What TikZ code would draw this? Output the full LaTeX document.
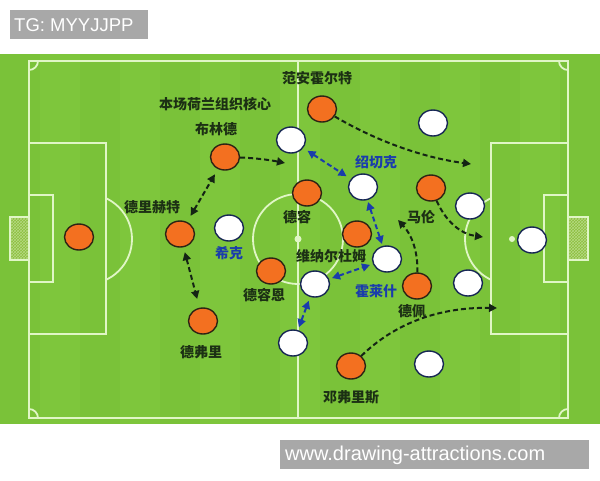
\documentclass[tikz,border=0pt]{standalone}
\usepackage{fontspec}
\setmainfont{Liberation Sans}
\newfontfamily\cjk{Noto Sans CJK SC}
\usetikzlibrary{shapes.geometric,arrows.meta,patterns}

\definecolor{grass}{RGB}{126,198,60}
\definecolor{grassdark}{RGB}{122,194,57}
\definecolor{netgreen}{RGB}{140,190,62}
\definecolor{chalk}{RGB}{224,246,198}
\definecolor{shirt}{RGB}{243,112,32}
\definecolor{rim}{RGB}{45,35,20}
\definecolor{navy}{RGB}{22,38,84}
\definecolor{runblue}{RGB}{26,60,172}
\definecolor{runblack}{RGB}{20,36,20}
\definecolor{labeltext}{RGB}{28,48,20}
\definecolor{stamp}{RGB}{168,168,168}

\begin{document}
\begin{tikzpicture}[x=1pt, y=-1pt,
    orange node/.style={ellipse,draw=rim,line width=1.4pt,fill=shirt,minimum width=29pt,minimum height=26pt,inner sep=0pt},
    white node/.style={ellipse,draw=navy,line width=1.4pt,fill=white,minimum width=29pt,minimum height=26pt,inner sep=0pt},
    name label/.style={font=\cjk\bfseries\fontsize{14}{14}\selectfont,text=labeltext,inner sep=0pt},
    blue label/.style={name label,text=runblue},
    run/.style={runblack,line width=2pt,dash pattern=on 5pt off 3pt,-{Triangle[length=8pt,width=8pt]}},
    swap run/.style={run,{Triangle[length=8pt,width=8pt]}-{Triangle[length=8pt,width=8pt]}},
    pass/.style={swap run,runblue},
    pitch/.style={chalk,line width=1.8pt},
    stamp text/.style={text=white,inner sep=0pt,anchor=west}]

  \useasboundingbox (0,0) rectangle (600,480);

  % grass and markings
  \fill[grass] (0,54) rectangle (600,424);
  \foreach \x in {0,80,...,560}
    \fill[grassdark] (\x,54) rectangle ++(40,370);
  \draw[pitch] (29,61) rectangle (568,418);
  \draw[pitch] (298,61) -- (298,418);
  \draw[pitch] (298,239) circle[radius=45pt];
  \fill[chalk] (298,239) circle[radius=3.5pt];
  \draw[pitch] (29,143) rectangle (106,334);
  \draw[pitch] (29,195) rectangle (53,282);
  \draw[pitch] (491,143) rectangle (568,334);
  \draw[pitch] (544,195) rectangle (568,282);
  \fill[netgreen] (10,217) rectangle (29,260);
  \draw[pitch,pattern=crosshatch,pattern color=chalk!50!netgreen] (10,217) rectangle (29,260);
  \fill[netgreen] (568,217) rectangle (588,260);
  \draw[pitch,pattern=crosshatch,pattern color=chalk!50!netgreen] (568,217) rectangle (588,260);
  \fill[chalk] (87,239) circle[radius=3pt];
  \fill[chalk] (512,239) circle[radius=3pt];
  \begin{scope}
    \clip (106,54) rectangle (200,424);
    \draw[pitch] (87,239) circle[radius=45pt];
  \end{scope}
  \begin{scope}
    \clip (400,54) rectangle (491,424);
    \draw[pitch] (510,239) circle[radius=45pt];
  \end{scope}
  \begin{scope}
    \clip (29,61) rectangle (568,418);
    \foreach \c in {(29,61),(568,61),(29,418),(568,418)}
      \draw[pitch] \c circle[radius=9pt];
  \end{scope}

  % Netherlands
  \node[orange node] (1) at (79,237) {};
  \node[orange node] (2) at (180,234) {};
  \node[orange node] (3) at (203,321) {};
  \node[orange node] (4) at (225,157) {};
  \node[orange node] (5) at (271,271) {};
  \node[orange node] (6) at (307,193) {};
  \node[orange node] (7) at (357,234) {};
  \node[orange node] (8) at (322,109) {};
  \node[orange node] (9) at (431,188) {};
  \node[orange node] (10) at (417,286) {};
  \node[orange node] (11) at (351,366) {};

  % Czech Republic
  \node[white node] (12) at (532,240) {};
  \node[white node] (13) at (291,140) {};
  \node[white node] (14) at (433,123) {};
  \node[white node] (15) at (363,187) {};
  \node[white node] (16) at (470,206) {};
  \node[white node] (17) at (229,228) {};
  \node[white node] (18) at (315,284) {};
  \node[white node] (19) at (387,259) {};
  \node[white node] (20) at (468,283) {};
  \node[white node] (21) at (293,343) {};
  \node[white node] (22) at (429,364) {};

  % names
  \node[name label] (t8) at (317,78) {范安霍尔特};
  \node[name label] (t4a) at (215,104) {本场荷兰组织核心};
  \node[name label] (t4) at (216,129) {布林德};
  \node[name label] (t2) at (152,207) {德里赫特};
  \node[name label] (t6) at (297,217) {德容};
  \node[name label] (t5) at (264,295) {德容恩};
  \node[name label] (t3) at (201,352) {德弗里};
  \node[name label] (t18) at (331,256) {维纳尔杜姆};
  \node[name label] (t9) at (421,217) {马伦};
  \node[name label] (t10) at (412,311) {德佩};
  \node[name label] (t11) at (351,397) {邓弗里斯};
  \node[blue label] (t17) at (229,253) {希克};
  \node[blue label] (t15) at (376,162) {绍切克};
  \node[blue label] (t19) at (376,291) {霍莱什};

  % runs
  \coordinate (c1) at (285,163);
  \coordinate (c2) at (471,164);
  \coordinate (c3) at (483,237);
  \coordinate (c4) at (398,220);
  \coordinate (c5) at (497,308);
  \draw[run] (4) .. controls (255,158) and (270,160) .. (c1);
  \draw[run] (8) .. controls (380,143) and (426,158) .. (c2);
  \draw[run] (9) .. controls (446,222) and (461,234) .. (c3);
  \draw[run] (10) .. controls (418,252) and (412,235) .. (c4);
  \draw[run] (11) .. controls (394,324) and (438,307) .. (c5);
  \draw[swap run,shorten <=7pt,shorten >=6pt] (2) -- (4);
  \draw[swap run,shorten <=5pt,shorten >=9pt] (2) -- (3);

  % marking
  \draw[pass,shorten <=5pt,shorten >=5pt] (13) -- (15);
  \draw[pass,shorten <=2pt,shorten >=2pt] (15) -- (19);
  \draw[pass,shorten <=3pt,shorten >=3pt] (18) -- (19);
  \draw[pass,shorten <=4pt,shorten >=3pt] (18) -- (21);

  % stamps
  \fill[stamp] (10,10) rectangle (148,39);
  \node[stamp text,font=\fontsize{18.5}{18.5}\selectfont] (tg) at (14,25) {TG: MYYJJPP};
  \fill[stamp] (280,440) rectangle (589,469);
  \node[stamp text,font=\fontsize{20}{20}\selectfont] (www) at (285,455) {www.drawing-attractions.com};
\end{tikzpicture}
\end{document}
